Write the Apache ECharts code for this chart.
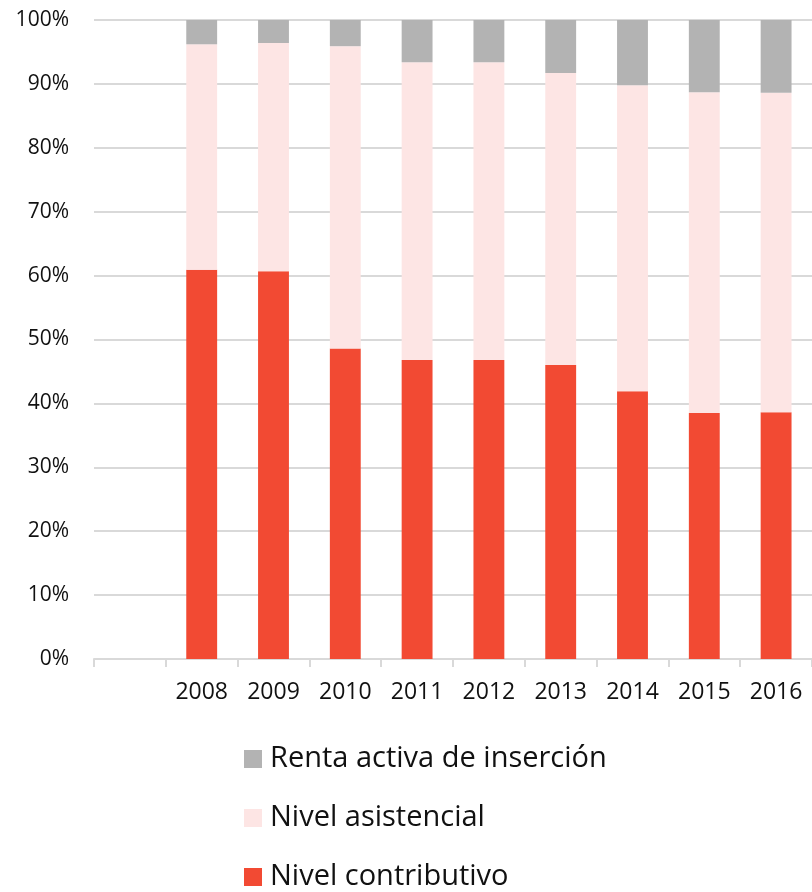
<!DOCTYPE html>
<html>
<head>
<meta charset="utf-8">
<script src="https://cdn.jsdelivr.net/npm/echarts@6/dist/echarts.min.js"></script>
<style>html,body{margin:0;padding:0;background:#fff}#c{width:812px;height:892px}</style>
</head>
<body>
<div id="c"></div>
<script>
const categories = ['', '2008', '2009', '2010', '2011', '2012', '2013', '2014', '2015', '2016'];
const contributivo = [null, 60.9, 60.7, 48.6, 46.8, 46.8, 46.0, 41.9, 38.5, 38.6];
const asistencial = [null, 35.3, 35.7, 47.3, 46.6, 46.6, 45.7, 47.9, 50.2, 50.0];
const renta = [null, 3.8, 3.6, 4.1, 6.6, 6.6, 8.3, 10.2, 11.3, 11.4];
const yTicks = [0, 10, 20, 30, 40, 50, 60, 70, 80, 90, 100];
const legendNames = ['Renta activa de inserción', 'Nivel asistencial', 'Nivel contributivo'];

const font = '"Open Sans", "Noto Sans", sans-serif';
const legendTops = [744, 803, 862];
const chart = echarts.init(document.getElementById('c'));
chart.setOption({
  animation: false,
  grid: { left: 94, right: 0, top: 20, bottom: 233, containLabel: false },
  xAxis: {
    type: 'category',
    data: categories,
    axisLine: { lineStyle: { color: '#d9d9d9', width: 2 } },
    axisTick: { show: true, length: 8, lineStyle: { color: '#d9d9d9', width: 2 } },
    axisLabel: { color: '#111', fontSize: 23, fontFamily: font, margin: 22 }
  },
  yAxis: {
    type: 'value',
    min: yTicks[0],
    max: yTicks[yTicks.length - 1],
    interval: 10,
    axisLine: { show: false },
    axisTick: { show: false },
    splitLine: { lineStyle: { color: '#d9d9d9', width: 2 } },
    axisLabel: { color: '#111', fontSize: 21, fontFamily: font, margin: 25, formatter: v => v + '%' }
  },
  legend: legendNames.map((n, i) => ({
    orient: 'vertical',
    left: 244,
    top: legendTops[i],
    padding: 0,
    itemWidth: 18,
    itemHeight: 18,
    icon: 'rect',
    data: [n],
    textStyle: { fontSize: 29, fontFamily: font, color: '#111', lineHeight: 30, padding: [0, 0, 0, 3] }
  })),
  series: [
    { name: 'Nivel contributivo', type: 'bar', stack: 's', data: contributivo, barWidth: '43%',
      itemStyle: { color: '#f24a33' } },
    { name: 'Nivel asistencial', type: 'bar', stack: 's', data: asistencial,
      itemStyle: { color: '#fde5e4' } },
    { name: 'Renta activa de inserción', type: 'bar', stack: 's', data: renta,
      itemStyle: { color: '#b3b3b3' } }
  ]
});
</script>
</body>
</html>
